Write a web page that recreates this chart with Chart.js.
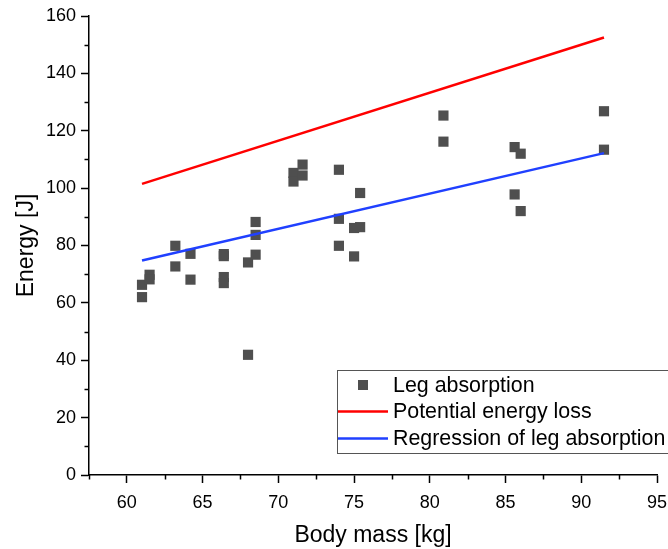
<!DOCTYPE html>
<html>
<head>
<meta charset="utf-8">
<script src="https://cdn.jsdelivr.net/npm/chart.js@4.4.0/dist/chart.umd.min.js"></script>
<style>
  html, body { margin: 0; padding: 0; background: #fff; }
  #wrap { width: 668px; height: 549px; }
</style>
</head>
<body>
<div id="wrap"><canvas id="chart"></canvas></div>
<script>
// body mass [kg] / leg absorption [J]
const legMass = [
  61.0, 61.0, 61.5, 61.5, 63.2, 63.2, 64.2, 64.2,
  66.4, 66.4, 66.4, 66.4, 68.0, 68.0, 68.5, 68.5, 68.5,
  71.0, 71.0, 71.6, 71.6, 74.0, 74.0, 74.0, 75.0, 75.0,
  75.4, 75.4, 80.9, 80.9, 85.6, 85.6, 86.0, 86.0, 91.5, 91.5
];
const legEnergy = [
  66.3, 62.0, 69.8, 68.2, 79.9, 72.7, 77.1, 68.1,
  77.0, 76.3, 69.0, 66.9, 74.1, 41.9, 88.2, 83.7, 76.8,
  105.3, 102.3, 108.2, 104.4, 106.4, 89.3, 79.9, 86.1, 76.2,
  98.3, 86.4, 125.3, 116.2, 114.3, 97.8, 112.0, 92.0, 126.8, 113.4
];

// straight lines: start and end mass
const lineMass = [61.0, 91.5];
const potentialLoss = [101.5, 152.5];
const regressionLeg = [74.8, 112.2];

const xTicks = [60, 65, 70, 75, 80, 85, 90, 95];
const xMinor = [57.5, 62.5, 67.5, 72.5, 77.5, 82.5, 87.5, 92.5];
const yTicks = [0, 20, 40, 60, 80, 100, 120, 140, 160];
const yMinor = [10, 30, 50, 70, 90, 110, 130, 150];

const legendLabels = ['Leg absorption', 'Potential energy loss', 'Regression of leg absorption'];

const FONT = "'Liberation Sans', Arial, sans-serif";
const POINT_COLOR = '#4f4f4f';
const RED = '#ff0000';
const BLUE = '#2040ff';

const toXY = (xs, ys) => xs.map((x, i) => ({ x: x, y: ys[i] }));

// minor ticks (chart.js has no minor ticks)
const minorTicks = {
  id: 'minorTicks',
  afterDraw(chart) {
    const { ctx, chartArea, scales } = chart;
    ctx.save();
    ctx.strokeStyle = '#000';
    ctx.lineWidth = 1.5;
    xMinor.forEach(v => {
      const px = Math.round(scales.x.getPixelForValue(v)) + 0.5;
      ctx.beginPath();
      ctx.moveTo(px, chartArea.bottom);
      ctx.lineTo(px, chartArea.bottom + 4.5);
      ctx.stroke();
    });
    yMinor.forEach(v => {
      const py = Math.round(scales.y.getPixelForValue(v)) + 0.5;
      ctx.beginPath();
      ctx.moveTo(chartArea.left, py);
      ctx.lineTo(chartArea.left - 4.5, py);
      ctx.stroke();
    });
    ctx.restore();
  }
};

// legend box in the lower right, Origin style
const boxLegend = {
  id: 'boxLegend',
  afterDraw(chart) {
    const { ctx } = chart;
    const left = 337, top = 370, bottom = 453, right = 680;
    const rows = [385, 411.5, 438.5];
    ctx.save();
    ctx.strokeStyle = '#555';
    ctx.lineWidth = 1;
    ctx.strokeRect(left + 0.5, top + 0.5, right - left, bottom - top);

    ctx.fillStyle = POINT_COLOR;
    ctx.fillRect(358, rows[0] - 5, 10, 10);

    ctx.lineWidth = 2.5;
    ctx.strokeStyle = RED;
    ctx.beginPath(); ctx.moveTo(338, rows[1]); ctx.lineTo(388, rows[1]); ctx.stroke();
    ctx.strokeStyle = BLUE;
    ctx.beginPath(); ctx.moveTo(338, rows[2]); ctx.lineTo(388, rows[2]); ctx.stroke();

    ctx.fillStyle = '#000';
    ctx.font = '21.4px ' + FONT;
    ctx.textBaseline = 'middle';
    ctx.textAlign = 'left';
    legendLabels.forEach((t, i) => ctx.fillText(t, 393, rows[i] + 1));
    ctx.restore();
  }
};

new Chart(document.getElementById('chart'), {
  type: 'scatter',
  data: {
    datasets: [
      {
        label: legendLabels[1],
        data: toXY(lineMass, potentialLoss),
        showLine: true,
        borderColor: RED,
        borderWidth: 2.5,
        pointRadius: 0,
        order: 1
      },
      {
        label: legendLabels[2],
        data: toXY(lineMass, regressionLeg),
        showLine: true,
        borderColor: BLUE,
        borderWidth: 2.5,
        pointRadius: 0,
        order: 1
      },
      {
        label: legendLabels[0],
        data: toXY(legMass, legEnergy),
        pointStyle: 'rect',
        pointRadius: 7.2,
        pointBorderWidth: 0,
        backgroundColor: POINT_COLOR,
        borderColor: POINT_COLOR,
        order: 2
      }
    ]
  },
  options: {
    responsive: true,
    maintainAspectRatio: false,
    animation: false,
    layout: { padding: { left: 0, top: 16, right: 11, bottom: 0 } },
    plugins: {
      legend: { display: false },
      tooltip: { enabled: false }
    },
    scales: {
      x: {
        type: 'linear',
        min: 57.5,
        max: 95,
        afterBuildTicks: scale => { scale.ticks = xTicks.map(v => ({ value: v })); },
        afterFit: scale => { scale.height = 74; scale.paddingLeft = 0; scale.paddingRight = 0; },
        grid: { drawOnChartArea: false, drawTicks: true, tickLength: 8, tickColor: '#000', tickWidth: 1.5 },
        border: { color: '#000', width: 1.5 },
        ticks: { color: '#000', font: { family: FONT, size: 18 }, padding: 9, maxRotation: 0 },
        title: { display: true, text: 'Body mass [kg]', color: '#000', font: { family: FONT, size: 23 }, padding: { top: 0, bottom: 0 } }
      },
      y: {
        type: 'linear',
        min: 0,
        max: 160,
        afterBuildTicks: scale => { scale.ticks = yTicks.map(v => ({ value: v })); },
        afterFit: scale => { scale.width = 89; scale.paddingTop = 0; scale.paddingBottom = 0; },
        grid: { drawOnChartArea: false, drawTicks: true, tickLength: 8, tickColor: '#000', tickWidth: 1.5 },
        border: { color: '#000', width: 1.5 },
        ticks: { color: '#000', font: { family: FONT, size: 18 }, padding: 5 },
        title: { display: true, text: 'Energy [J]', color: '#000', font: { family: FONT, size: 23 }, padding: { top: 13, bottom: 0 } }
      }
    }
  },
  plugins: [minorTicks, boxLegend]
});
</script>
</body>
</html>
